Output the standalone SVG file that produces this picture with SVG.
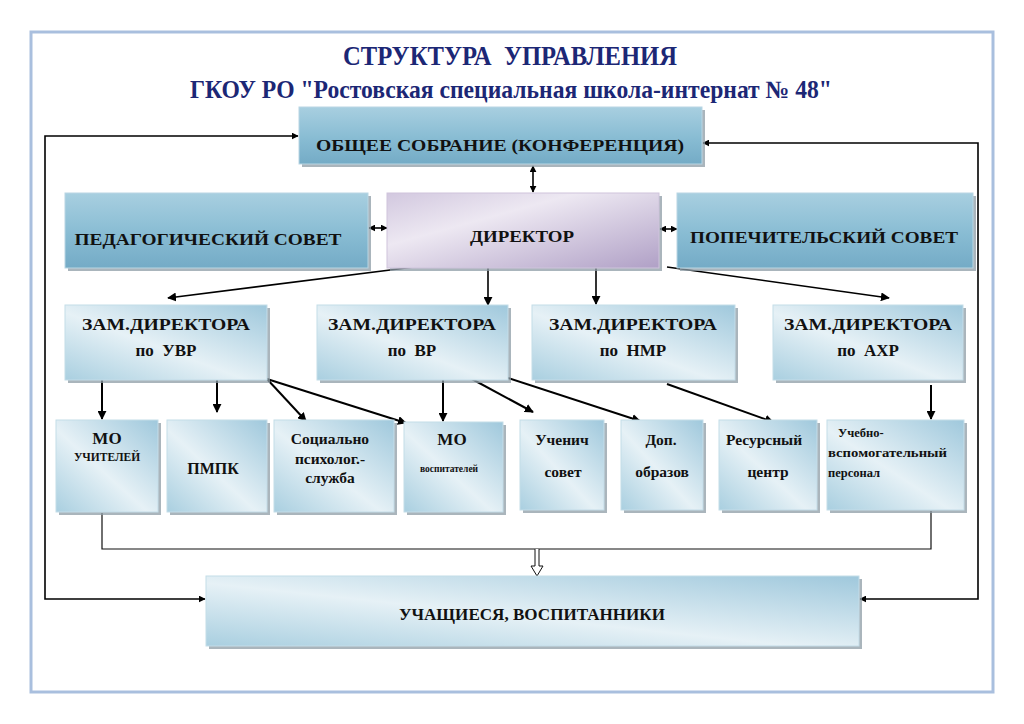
<svg xmlns="http://www.w3.org/2000/svg" width="1024" height="724" viewBox="0 0 1024 724">
<defs>
<linearGradient id="gDark" x1="0" y1="0" x2="0" y2="1">
<stop offset="0" stop-color="#a8cfe0"/>
<stop offset="0.55" stop-color="#88bcd3"/>
<stop offset="1" stop-color="#74abc6"/>
</linearGradient>
<linearGradient id="gLight" x1="0" y1="1" x2="1" y2="0">
<stop offset="0" stop-color="#a9cfe0"/>
<stop offset="0.45" stop-color="#e6f1f6"/>
<stop offset="1" stop-color="#9fc8dc"/>
</linearGradient>
<linearGradient id="gDir" x1="0" y1="0" x2="1" y2="1">
<stop offset="0" stop-color="#d2c8df"/>
<stop offset="0.35" stop-color="#ede8f2"/>
<stop offset="1" stop-color="#b0a0c6"/>
</linearGradient>
<marker id="ah" viewBox="0 0 10 10" refX="9" refY="5" markerWidth="7" markerHeight="7" markerUnits="userSpaceOnUse" orient="auto-start-reverse">
<path d="M0,0 L10,5 L0,10 z" fill="#000"/>
</marker>
<marker id="ah2" viewBox="0 0 10 10" refX="9" refY="5" markerWidth="9" markerHeight="9" markerUnits="userSpaceOnUse" orient="auto-start-reverse">
<path d="M0,0 L10,5 L0,10 z" fill="#000"/>
</marker>
</defs>
<rect x="0" y="0" width="1024" height="724" fill="#fff"/>
<rect x="31" y="32" width="962" height="660" fill="#fff" stroke="#a9bfde" stroke-width="3"/>

<text font-family="Liberation Serif" font-weight="bold" fill="#1c2775" text-anchor="middle" x="510" y="65" font-size="28" textLength="334" lengthAdjust="spacingAndGlyphs" xml:space="preserve">СТРУКТУРА  УПРАВЛЕНИЯ</text>
<text font-family="Liberation Serif" font-weight="bold" fill="#1c2775" text-anchor="middle" x="511" y="98" font-size="25" textLength="642" lengthAdjust="spacingAndGlyphs">ГКОУ РО "Ростовская специальная школа-интернат № 48"</text>

<g id="connectors" fill="none" stroke="#000">
<g stroke-width="1.6">
<path d="M298,136 H45 V599 H205" marker-start="url(#ah)" marker-end="url(#ah)"/>
<path d="M703,143 H978 V599 H860" marker-start="url(#ah)" marker-end="url(#ah)"/>
<path d="M533,166 V192" marker-start="url(#ah)" marker-end="url(#ah)"/>
<path d="M369,228 H387" marker-start="url(#ah)" marker-end="url(#ah)"/>
<path d="M660,229 H677" marker-start="url(#ah)" marker-end="url(#ah)"/>
<path d="M414,267 L168,298" marker-end="url(#ah2)"/>
<path d="M488,268 V305" marker-end="url(#ah2)"/>
<path d="M596,268 V304" marker-end="url(#ah2)"/>
<path d="M667,267 L889,298" marker-end="url(#ah2)"/>
</g>
<g stroke-width="2">
<path d="M102,380 V419" marker-end="url(#ah2)"/>
<path d="M217,380 V412" marker-end="url(#ah2)"/>
<path d="M267,379 L306,421" marker-end="url(#ah2)"/>
<path d="M267,379 L406,423" marker-end="url(#ah2)"/>
<path d="M443,380 V421" marker-end="url(#ah2)"/>
<path d="M470,378 L533,412" marker-end="url(#ah2)"/>
<path d="M508,378 L640,421" marker-end="url(#ah2)"/>
<path d="M667,384 L773,422" marker-end="url(#ah2)"/>
<path d="M931,385 V419" marker-end="url(#ah2)"/>
</g>
<path d="M102,513 V549 H931 V511" stroke="#111" stroke-width="1.2"/>
<path d="M535,549 V566 H531 L537,576 L543,566 H539 V549" fill="#fff" stroke="#111" stroke-width="1"/>
</g>

<g id="n-sobranie">
<rect fill="#8d9ca6" opacity="0.75" x="302" y="110" width="403" height="57"/>
<rect fill="url(#gDark)" stroke="#b9d6e3" x="299" y="107" width="403" height="57"/>
<text font-family="Liberation Serif" font-weight="bold" fill="#111" text-anchor="middle" x="500" y="151" font-size="16" textLength="368" lengthAdjust="spacingAndGlyphs">ОБЩЕЕ СОБРАНИЕ (КОНФЕРЕНЦИЯ)</text>
</g>
<g id="n-pedsovet">
<rect fill="#8d9ca6" opacity="0.75" x="68" y="196" width="303" height="75"/>
<rect fill="url(#gDark)" stroke="#b9d6e3" x="65" y="193" width="303" height="75"/>
<text font-family="Liberation Serif" font-weight="bold" fill="#111" text-anchor="middle" x="208" y="245" font-size="17" textLength="267" lengthAdjust="spacingAndGlyphs">ПЕДАГОГИЧЕСКИЙ СОВЕТ</text>
</g>
<g id="n-director">
<rect fill="#8d9ca6" opacity="0.75" x="390" y="196" width="272" height="75"/>
<rect fill="url(#gDir)" stroke="#cfc4dc" x="387" y="193" width="272" height="75"/>
<text font-family="Liberation Serif" font-weight="bold" fill="#111" text-anchor="middle" x="522" y="242" font-size="16" textLength="104" lengthAdjust="spacingAndGlyphs">ДИРЕКТОР</text>
</g>
<g id="n-popsovet">
<rect fill="#8d9ca6" opacity="0.75" x="680" y="196" width="296" height="75"/>
<rect fill="url(#gDark)" stroke="#b9d6e3" x="677" y="193" width="296" height="75"/>
<text font-family="Liberation Serif" font-weight="bold" fill="#111" text-anchor="middle" x="824" y="243" font-size="17" textLength="268" lengthAdjust="spacingAndGlyphs">ПОПЕЧИТЕЛЬСКИЙ СОВЕТ</text>
</g>

<g id="n-zam-uvr">
<rect fill="#8d9ca6" opacity="0.75" x="68" y="308" width="202" height="75"/>
<rect fill="url(#gLight)" stroke="#c4dde8" x="65" y="305" width="202" height="75"/>
<text font-family="Liberation Serif" font-weight="bold" fill="#111" text-anchor="middle" x="166" y="330" font-size="17" textLength="168" lengthAdjust="spacingAndGlyphs">ЗАМ.ДИРЕКТОРА</text>
<text font-family="Liberation Serif" font-weight="bold" fill="#111" text-anchor="middle" x="166" y="356" font-size="17" xml:space="preserve">по  УВР</text>
</g>
<g id="n-zam-vr">
<rect fill="#8d9ca6" opacity="0.75" x="320" y="308" width="191" height="75"/>
<rect fill="url(#gLight)" stroke="#c4dde8" x="317" y="305" width="191" height="75"/>
<text font-family="Liberation Serif" font-weight="bold" fill="#111" text-anchor="middle" x="412" y="330" font-size="17" textLength="168" lengthAdjust="spacingAndGlyphs">ЗАМ.ДИРЕКТОРА</text>
<text font-family="Liberation Serif" font-weight="bold" fill="#111" text-anchor="middle" x="412" y="356" font-size="17" xml:space="preserve">по  ВР</text>
</g>
<g id="n-zam-nmr">
<rect fill="#8d9ca6" opacity="0.75" x="535" y="308" width="203" height="75"/>
<rect fill="url(#gLight)" stroke="#c4dde8" x="532" y="305" width="203" height="75"/>
<text font-family="Liberation Serif" font-weight="bold" fill="#111" text-anchor="middle" x="633" y="330" font-size="17" textLength="168" lengthAdjust="spacingAndGlyphs">ЗАМ.ДИРЕКТОРА</text>
<text font-family="Liberation Serif" font-weight="bold" fill="#111" text-anchor="middle" x="633" y="356" font-size="17" xml:space="preserve">по  НМР</text>
</g>
<g id="n-zam-ahr">
<rect fill="#8d9ca6" opacity="0.75" x="776" y="308" width="190" height="75"/>
<rect fill="url(#gLight)" stroke="#c4dde8" x="773" y="305" width="190" height="75"/>
<text font-family="Liberation Serif" font-weight="bold" fill="#111" text-anchor="middle" x="868" y="330" font-size="17" textLength="168" lengthAdjust="spacingAndGlyphs">ЗАМ.ДИРЕКТОРА</text>
<text font-family="Liberation Serif" font-weight="bold" fill="#111" text-anchor="middle" x="868" y="356" font-size="17" xml:space="preserve">по  АХР</text>
</g>

<g id="n-mo-uch">
<rect fill="#8d9ca6" opacity="0.75" x="59" y="423" width="102" height="92"/>
<rect fill="url(#gLight)" stroke="#c4dde8" x="56" y="420" width="102" height="92"/>
<text font-family="Liberation Serif" font-weight="bold" fill="#111" text-anchor="middle" x="107" y="444" font-size="17">МО</text>
<text font-family="Liberation Serif" font-weight="bold" fill="#111" text-anchor="middle" x="107" y="461" font-size="11.5">УЧИТЕЛЕЙ</text>
</g>
<g id="n-pmpk">
<rect fill="#8d9ca6" opacity="0.75" x="170" y="423" width="100" height="92"/>
<rect fill="url(#gLight)" stroke="#c4dde8" x="167" y="420" width="100" height="92"/>
<text font-family="Liberation Serif" font-weight="bold" fill="#111" text-anchor="middle" x="213" y="474" font-size="16">ПМПК</text>
</g>
<g id="n-soc">
<rect fill="#8d9ca6" opacity="0.75" x="277" y="423" width="120" height="92"/>
<rect fill="url(#gLight)" stroke="#c4dde8" x="274" y="420" width="120" height="92"/>
<text font-family="Liberation Serif" font-weight="bold" fill="#111" text-anchor="middle" x="330" y="444" font-size="15.5">Социально</text>
<text font-family="Liberation Serif" font-weight="bold" fill="#111" text-anchor="middle" x="330" y="464" font-size="15.5">психолог.-</text>
<text font-family="Liberation Serif" font-weight="bold" fill="#111" text-anchor="middle" x="330" y="483" font-size="15.5">служба</text>
</g>
<g id="n-mo-vosp">
<rect fill="#8d9ca6" opacity="0.75" x="407" y="425" width="99" height="90"/>
<rect fill="url(#gLight)" stroke="#c4dde8" x="404" y="422" width="99" height="90"/>
<text font-family="Liberation Serif" font-weight="bold" fill="#111" text-anchor="middle" x="452" y="445" font-size="17">МО</text>
<text font-family="Liberation Serif" font-weight="bold" fill="#111" text-anchor="middle" x="449" y="472" font-size="9.5">воспитателей</text>
</g>
<g id="n-uchsovet">
<rect fill="#8d9ca6" opacity="0.75" x="523" y="423" width="84" height="90"/>
<rect fill="url(#gLight)" stroke="#c4dde8" x="520" y="420" width="84" height="90"/>
<text font-family="Liberation Serif" font-weight="bold" fill="#111" text-anchor="middle" x="562" y="445" font-size="15.5">Ученич</text>
<text font-family="Liberation Serif" font-weight="bold" fill="#111" text-anchor="middle" x="563" y="477" font-size="15.5">совет</text>
</g>
<g id="n-dop">
<rect fill="#8d9ca6" opacity="0.75" x="624" y="423" width="82" height="90"/>
<rect fill="url(#gLight)" stroke="#c4dde8" x="621" y="420" width="82" height="90"/>
<text font-family="Liberation Serif" font-weight="bold" fill="#111" text-anchor="middle" x="661" y="445" font-size="15.5">Доп.</text>
<text font-family="Liberation Serif" font-weight="bold" fill="#111" text-anchor="middle" x="662" y="477" font-size="15.5">образов</text>
</g>
<g id="n-resurs">
<rect fill="#8d9ca6" opacity="0.75" x="722" y="423" width="98" height="90"/>
<rect fill="url(#gLight)" stroke="#c4dde8" x="719" y="420" width="98" height="90"/>
<text font-family="Liberation Serif" font-weight="bold" fill="#111" text-anchor="middle" x="764" y="445" font-size="15.5">Ресурсный</text>
<text font-family="Liberation Serif" font-weight="bold" fill="#111" text-anchor="middle" x="768" y="477" font-size="15.5">центр</text>
</g>
<g id="n-uvp">
<rect fill="#8d9ca6" opacity="0.75" x="830" y="423" width="137" height="90"/>
<rect fill="url(#gLight)" stroke="#c4dde8" x="827" y="420" width="137" height="90"/>
<text font-family="Liberation Serif" font-weight="bold" fill="#111" x="838" y="437" font-size="12.5">Учебно-</text>
<text font-family="Liberation Serif" font-weight="bold" fill="#111" x="828" y="457" font-size="12.5" textLength="119" lengthAdjust="spacingAndGlyphs">вспомогательный</text>
<text font-family="Liberation Serif" font-weight="bold" fill="#111" x="828" y="477" font-size="12.5">персонал</text>
</g>

<g id="n-students">
<rect fill="#8d9ca6" opacity="0.75" x="209" y="579" width="653" height="70"/>
<rect fill="url(#gLight)" stroke="#c4dde8" x="206" y="576" width="653" height="70"/>
<text font-family="Liberation Serif" font-weight="bold" fill="#111" text-anchor="middle" x="532" y="620" font-size="16" textLength="266" lengthAdjust="spacingAndGlyphs">УЧАЩИЕСЯ, ВОСПИТАННИКИ</text>
</g>
</svg>
